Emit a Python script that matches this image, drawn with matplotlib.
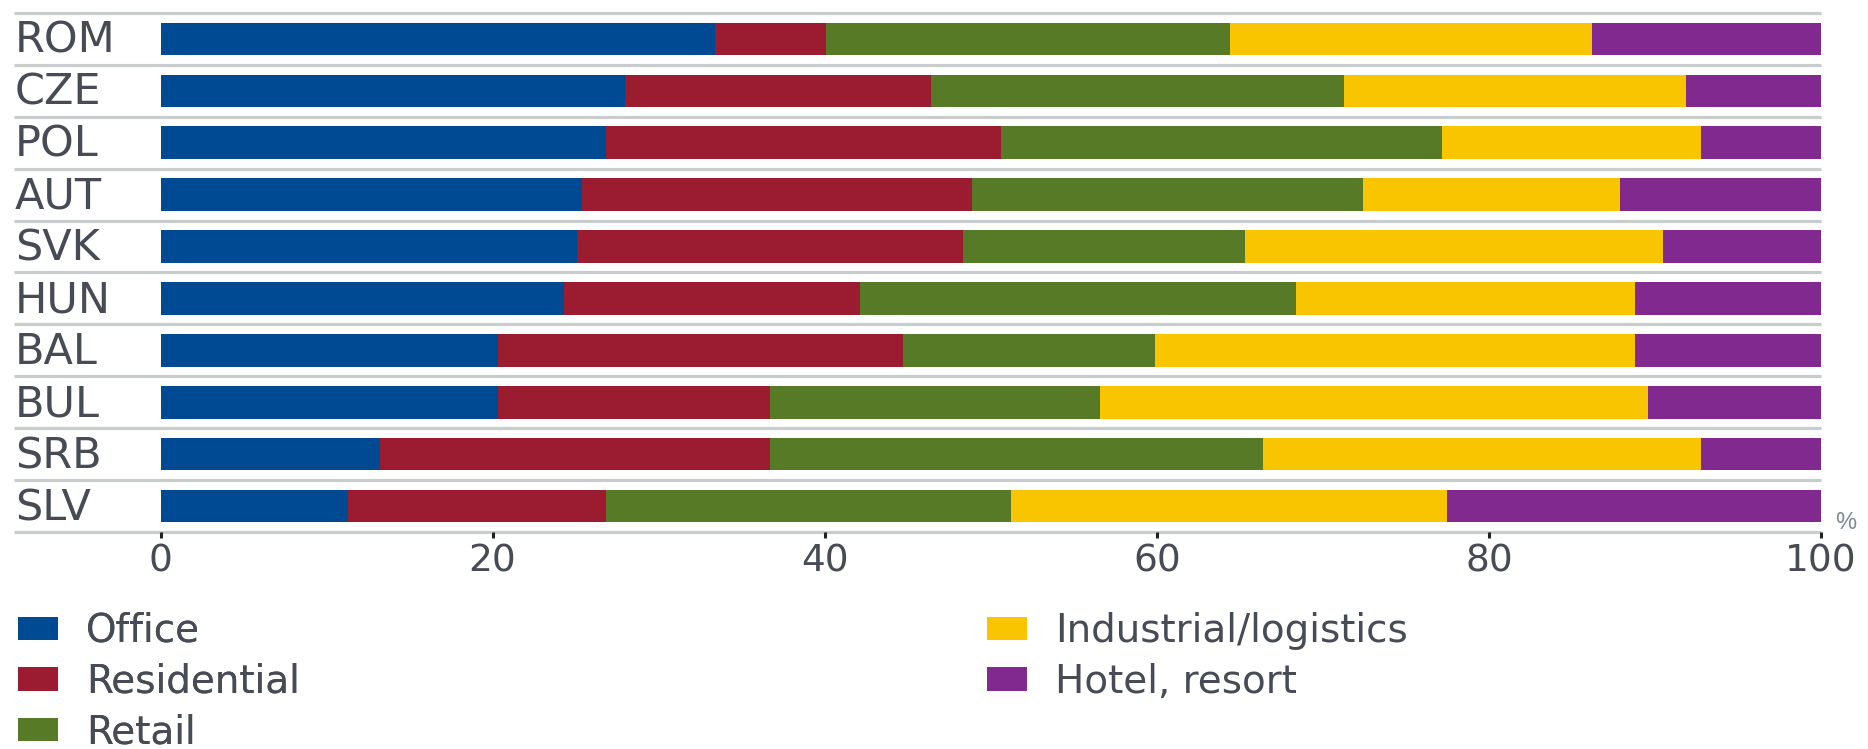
import matplotlib
matplotlib.use("Agg")
import matplotlib.pyplot as plt
import matplotlib.transforms as mtransforms
from matplotlib.patches import Patch
import numpy as np

# Share of investment volume by property type (%)
countries = ["ROM", "CZE", "POL", "AUT", "SVK", "HUN", "BAL", "BUL", "SRB", "SLV"]
office = [33.4, 28.0, 26.8, 25.4, 25.1, 24.3, 20.3, 20.3, 13.2, 11.3]
residential = [6.7, 18.4, 23.8, 23.5, 23.2, 17.8, 24.4, 16.4, 23.5, 15.5]
retail = [24.3, 24.9, 26.6, 23.5, 17.0, 26.3, 15.2, 19.9, 29.7, 24.4]
industrial = [21.8, 20.6, 15.6, 15.5, 25.2, 20.4, 28.9, 33.0, 26.4, 26.3]
hotel = [13.8, 8.1, 7.2, 12.1, 9.5, 11.2, 11.2, 10.4, 7.2, 22.5]
series_names = ["Office", "Residential", "Retail", "Industrial/logistics", "Hotel, resort"]
xticks = [0, 20, 40, 60, 80, 100]

colors = ["#004a93", "#9b1c31", "#577a27", "#f8c500", "#82298f"]
grid_color = "#c9cccc"
text_color = "#464b55"

W, H = 1868, 749
fig = plt.figure(figsize=(W / 100, H / 100), dpi=100)
ax = fig.add_axes([160.5 / W, 1 - 532 / H, (1821 - 160.5) / W, (532 - 13) / H])

series = [office, residential, retail, industrial, hotel]
y = np.arange(len(countries))
left = np.zeros(len(countries))
for vals, c in zip(series, colors):
    vals = np.asarray(vals)
    ax.barh(y, vals, left=left, height=0.63, color=c, edgecolor="none", zorder=2)
    left += vals

ax.set_xlim(0, 100)
ax.set_ylim(len(countries) - 0.5, -0.5)
for s in ax.spines.values():
    s.set_visible(False)

# Row separators running under the category labels
blend = mtransforms.blended_transform_factory(fig.transFigure, ax.transData)
ax.hlines(np.arange(len(countries) + 1) - 0.5, 14 / W, 1821 / W, transform=blend,
          colors=grid_color, linewidth=2.3, clip_on=False, zorder=1)

# Category labels
lab_tr = blend + mtransforms.ScaledTranslation(0, -14 / 100, fig.dpi_scale_trans)
for i, name in enumerate(countries):
    ax.text(15 / W, i, name, transform=lab_tr, ha="left", va="baseline",
            fontsize=31, color=text_color, family="DejaVu Sans")

ax.set_yticks([])
ax.set_xticks(xticks)
ax.set_xticklabels([str(t) for t in xticks], fontsize=27, color=text_color,
                   family="DejaVu Sans")
ax.tick_params(axis="x", length=4, width=2.2, color="#222222", pad=4, direction="out")

fig.text(1846 / W, 1 - 523 / H, "%", fontsize=17, color="#7d8a99",
         ha="center", va="center", family="Liberation Sans")

handles = [Patch(facecolor=c, edgecolor="none", label=n) for c, n in zip(colors, series_names)]
leg_kw = dict(loc="upper left", frameon=False, borderpad=0, borderaxespad=0,
              handlelength=1.03, handleheight=0.54, handletextpad=0.72, labelspacing=0.33,
              labelcolor=text_color, prop={"family": "DejaVu Sans", "size": 28})
leg1 = fig.legend(handles=handles[:3], bbox_to_anchor=(18 / W, 1 - 612 / H), **leg_kw)
fig.add_artist(leg1)
fig.legend(handles=handles[3:], bbox_to_anchor=(987 / W, 1 - 612 / H), **leg_kw)

fig.savefig("out.png", dpi=100)
